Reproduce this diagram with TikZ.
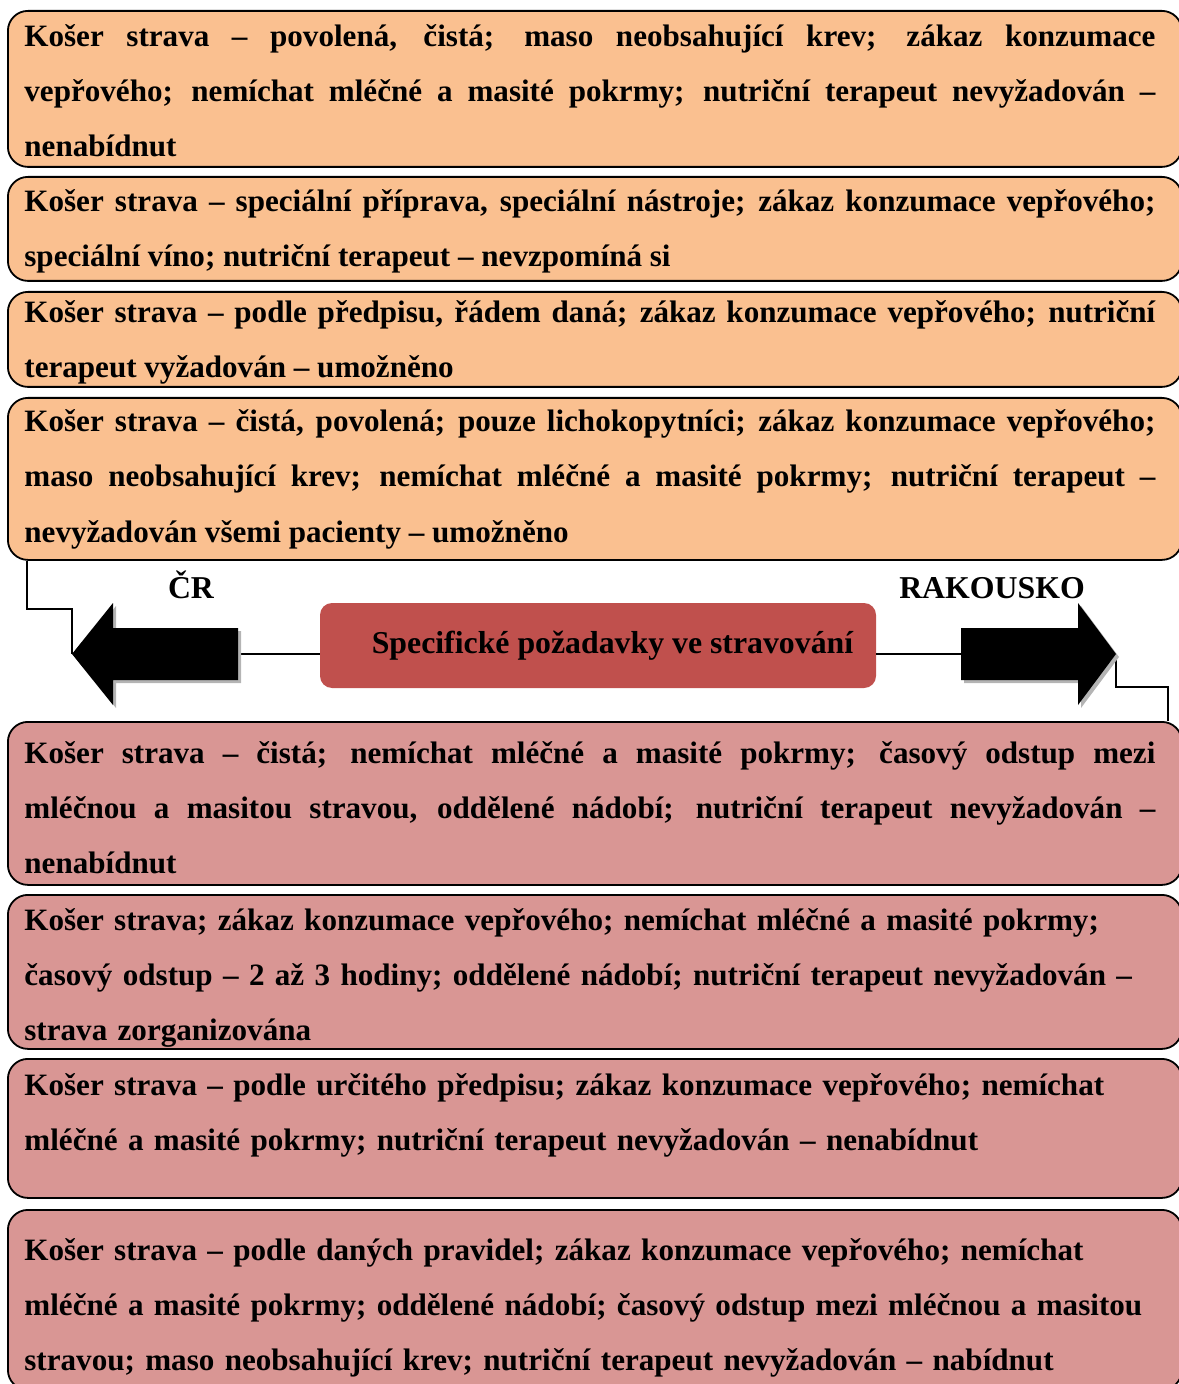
\documentclass[tikz,border=0pt]{standalone}
\usepackage{fontspec}
\setmainfont{Liberation Serif}
\usepackage{xcolor}
\definecolor{Peach}{HTML}{FAC090}
\definecolor{Rose}{HTML}{D99694}
\definecolor{Brick}{HTML}{C0504D}
\definecolor{Shade}{HTML}{B4B4B4}
\hyphenpenalty=10000

\begin{document}
\begin{tikzpicture}[x=0.5pt,y=-0.5pt,
  card/.style={draw=black,line width=0.9pt,rounded corners=10pt,anchor=north west,inner sep=0pt,minimum width=587pt},
  para/.style={anchor=base west,inner sep=0pt,text width=565.5pt,font=\bfseries\fontsize{15.55}{27.5}\selectfont},
  tag/.style={anchor=base,inner sep=0pt,font=\bfseries\fontsize{15.9}{27.5}\selectfont},
  link/.style={draw=black,line width=0.7pt}]
\useasboundingbox (0,0) rectangle (1178,1384);
% boxes for the Czech side
\node[card,fill=Peach,minimum height=78pt] (cz1) at (7,10) {};
\node[card,fill=Peach,minimum height=52pt] (cz2) at (7,176) {};
\node[card,fill=Peach,minimum height=47.5pt] (cz3) at (7,291) {};
\node[card,fill=Peach,minimum height=81pt] (cz4) at (7,397) {};
\node[para,align=justify] (cz1t) at (24,47) {Košer strava – povolená, čistá; maso neobsahující krev; zákaz konzumace\linebreak vepřového; nemíchat mléčné a masité pokrmy; nutriční terapeut nevyžadován –\linebreak nenabídnut};
\node[para,align=justify] (cz2t) at (24,212) {Košer strava – speciální příprava, speciální nástroje; zákaz konzumace vepřového;\linebreak speciální víno; nutriční terapeut – nevzpomíná si};
\node[para,align=justify] (cz3t) at (24,323) {Košer strava – podle předpisu, řádem daná; zákaz konzumace vepřového; nutriční\linebreak terapeut vyžadován – umožněno};
\node[para,align=justify] (cz4t) at (24,432) {Košer strava – čistá, povolená; pouze lichokopytníci; zákaz konzumace vepřového;\linebreak maso neobsahující krev; nemíchat mléčné a masité pokrmy; nutriční terapeut –\linebreak nevyžadován všemi pacienty – umožněno};
% boxes for the Austrian side
\node[card,fill=Rose,minimum height=81.5pt] (at1) at (7,721) {};
\node[card,fill=Rose,minimum height=77pt] (at2) at (7,894) {};
\node[card,fill=Rose,minimum height=69.5pt] (at3) at (7,1058) {};
\node[card,fill=Rose,minimum height=90pt] (at4) at (7,1209) {};
\node[para,align=justify] (at1t) at (24,763) {Košer strava – čistá; nemíchat mléčné a masité pokrmy; časový odstup mezi\linebreak mléčnou a masitou stravou, oddělené nádobí; nutriční terapeut nevyžadován –\linebreak nenabídnut};
\node[para,align=left] (at2t) at (24,930) {Košer strava; zákaz konzumace vepřového; nemíchat mléčné a masité pokrmy;\\ časový odstup – 2 až 3 hodiny; oddělené nádobí; nutriční terapeut nevyžadován –\\ strava zorganizována};
\node[para,align=left] (at3t) at (24,1095) {Košer strava – podle určitého předpisu; zákaz konzumace vepřového; nemíchat\\ mléčné a masité pokrmy; nutriční terapeut nevyžadován – nenabídnut};
\node[para,align=left] (at4t) at (24,1260) {Košer strava – podle daných pravidel; zákaz konzumace vepřového; nemíchat\\ mléčné a masité pokrmy; oddělené nádobí; časový odstup mezi mléčnou a masitou\\ stravou; maso neobsahující krev; nutriční terapeut nevyžadován – nabídnut};
% middle row
\node[fill=Brick,rounded corners=6pt,minimum width=278pt,minimum height=42.5pt,inner sep=0pt,font=\bfseries\fontsize{15.9}{27.5}\selectfont] (hub) at (598,645.5) {\hspace*{14.5pt}Specifické požadavky ve stravování};
\node[tag] (czlab) at (191,598) {ČR};
\node[tag] (atlab) at (992,598) {RAKOUSKO};
\coordinate (czTip) at (72,654);
\coordinate (czTail) at (238,654);
\coordinate (atTip) at (1116,654);
\coordinate (atTail) at (961,654);
\draw[link] (hub.west |- czTail) -- (czTail);
\draw[link] (hub.east |- atTail) -- (atTail);
\draw[link] ([xshift=10pt]cz4.south west) -- ++(0,48) -| (czTip);
\draw[link] (atTip) -- ++(0,33) -| ([xshift=-7.5pt]at1.north east);
% block arrows with shadow
\fill[Shade] (75,657) -- (116,606) -- (116,631) -- (241,631) -- (241,683) -- (116,683) -- (116,708) -- cycle;
\fill[black] (72,654) -- (113,603) -- (113,628) -- (238,628) -- (238,680) -- (113,680) -- (113,705) -- cycle;
\fill[Shade] (1119,657) -- (1081,606) -- (1081,631) -- (964,631) -- (964,683) -- (1081,683) -- (1081,708) -- cycle;
\fill[black] (1116,654) -- (1078,603) -- (1078,628) -- (961,628) -- (961,680) -- (1078,680) -- (1078,705) -- cycle;
\end{tikzpicture}
\end{document}
